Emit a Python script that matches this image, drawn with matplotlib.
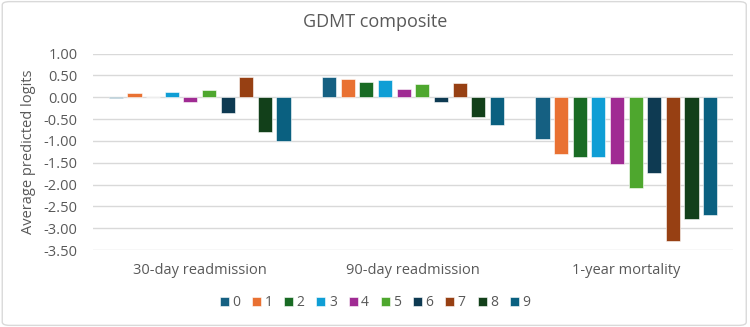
import matplotlib
matplotlib.use("Agg")
import matplotlib.pyplot as plt
from matplotlib.patches import FancyBboxPatch
import numpy as np

categories = ["30-day readmission", "90-day readmission", "1-year mortality"]
series_names = ["0", "1", "2", "3", "4", "5", "6", "7", "8", "9"]
s0 = [-0.02, 0.47, -0.95]
s1 = [0.09, 0.41, -1.31]
s2 = [0.005, 0.35, -1.36]
s3 = [0.12, 0.39, -1.36]
s4 = [-0.10, 0.19, -1.54]
s5 = [0.17, 0.31, -2.09]
s6 = [-0.37, -0.10, -1.74]
s7 = [0.46, 0.33, -3.29]
s8 = [-0.79, -0.46, -2.80]
s9 = [-1.01, -0.63, -2.70]
series_values = [s0, s1, s2, s3, s4, s5, s6, s7, s8, s9]
colors = ["#156082", "#E97132", "#196B24", "#0F9ED5", "#A02B93",
          "#4EA72E", "#0E3A52", "#974013", "#12401A", "#0A6080"]
yticks = [1.0, 0.5, 0.0, -0.5, -1.0, -1.5, -2.0, -2.5, -3.0, -3.5]

plt.rcParams['font.family'] = ['Open Sans', 'DejaVu Sans']
fig = plt.figure(figsize=(7.5, 3.27), dpi=100)
ax = fig.add_axes([93/750, 1-250/327, 640/750, (250-53.5)/327])

x = np.arange(len(categories))
step = 0.0873
width = 0.066
for i, (name, vals, c) in enumerate(zip(series_names, series_values, colors)):
    ax.bar(x + (i - 4.5) * step, vals, width=width, color=c, label=name,
           edgecolor="#ffffff", linewidth=0.4, zorder=3)

ax.set_xlim(-0.5, 2.5)
ax.set_ylim(-3.5, 1.0)
ax.set_yticks(yticks)
ax.set_yticklabels([f"{v:.2f}" for v in yticks])
ax.set_xticks(x)
ax.set_xticklabels(categories)
ax.grid(axis='y', color="#d9d9d9", linewidth=1.0, zorder=0)
for s in ax.spines.values():
    s.set_visible(False)
ax.tick_params(axis='both', length=0, labelsize=10.5, colors="#595959")
ax.tick_params(axis='x', pad=9)
ax.tick_params(axis='y', pad=11)

fig.text(29/750, 1-151.5/327, "Average predicted logits", rotation=90,
         ha='center', va='center', fontsize=10.5, color="#595959")
fig.text(0.5, 1-22/327, "GDMT composite", ha='center', va='center',
         fontsize=13, color="#595959")

leg = fig.legend(loc='center', bbox_to_anchor=(0.5, 1-303/327), ncol=10,
                 frameon=False, fontsize=10, handlelength=0.65, handleheight=0.65,
                 handletextpad=0.25, columnspacing=0.85, labelcolor="#595959")

border = FancyBboxPatch((0.003, 0.005), 0.992, 0.99, boxstyle="round,pad=0,rounding_size=0.01",
                        transform=fig.transFigure, facecolor='none', edgecolor="#d9d9d9",
                        linewidth=1.0)
fig.patches.append(border)

fig.savefig("out.png", dpi=100)
